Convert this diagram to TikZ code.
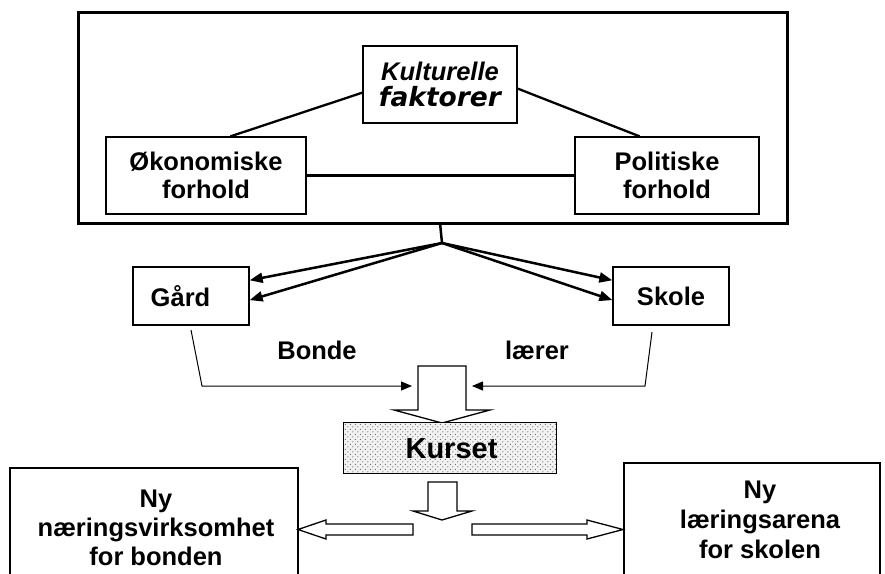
\documentclass[tikz,border=0pt]{standalone}
\usepackage{fontspec}
\setmainfont{Liberation Sans}
\newfontfamily\djv{DejaVu Sans}
\usetikzlibrary{arrows.meta,calc}
\begin{document}
\begin{tikzpicture}[x=1pt,y=-1pt,
  txt/.style={font=\fontsize{25.5}{28}\selectfont\bfseries, align=center, inner sep=0},
  ibox/.style={draw, line width=1.3pt, inner sep=0, font=\fontsize{25.5}{27.5}\selectfont\bfseries, align=center},
  link/.style={line width=2.3pt},
  farrow/.style={line width=2.5pt, -{Triangle[length=13pt,width=10pt]}},
  tarrow/.style={line width=1pt, -{Triangle[length=11pt,width=9pt]}},
  blk/.style={draw, line width=1.3pt, fill=white, line join=miter},
  dot/.style={fill=black!75}
]
\useasboundingbox (0,0) rectangle (885,573);

% outer frame
\node[draw, line width=3pt, minimum width=709pt, minimum height=211pt, inner sep=0] (outer) at (432.5,117.5) {};

\node[ibox, minimum width=154pt, minimum height=77pt] (kult) at (440,84.5)
  {\itshape Kulturelle\\[-1pt]{\djv\bfseries\itshape\fontsize{26.5}{28}\selectfont faktorer}};
\node[ibox, minimum width=200pt, minimum height=77pt] (oko) at (206,175.5) {Økonomiske\\forhold};
\node[ibox, minimum width=184pt, minimum height=77pt] (pol) at (667,175.5) {Politiske\\forhold};

\draw[link] (kult.186) -- (oko.58);
\draw[link] (kult.-3) -- (pol.125);
\draw[link] (oko.east) -- (pol.west);

% stem and junction
\coordinate (st) at (440,223);
\coordinate (j) at (442,243);
\draw[link, line width=2.5pt] (st) -- (j);

\node[ibox, minimum width=116pt, minimum height=58pt] (gard) at (191,296) {Gård\hspace*{21pt}};
\node[ibox, minimum width=116pt, minimum height=58pt] (skole) at (671,296) {Skole};

\draw[farrow] (j) -- (gard.15);
\draw[farrow] (j) -- (gard.-4);
\draw[farrow] (j) -- (skole.165.5);
\draw[farrow] (j) -- (skole.184);

\node[txt] (bonde) at (317,350) {Bonde};
\node[txt] (laerer) at (537,350) {lærer};

% top block arrow
\draw[blk] (418,366) -- (466,366) -- (466,410) -- (490,410) -- (442,423) -- (394,410) -- (418,410) -- cycle;
\coordinate (bL) at (418,386);
\coordinate (bR) at (466,386);

\coordinate (g1) at (191,330);
\coordinate (g2) at (202,386);
\coordinate (s1) at (652,332);
\coordinate (s2) at (645,386);
\draw[tarrow] (g1) -- (g2) -- ($(bL)+(-6,0)$);
\draw[tarrow] (s1) -- (s2) -- ($(bR)+(6,0)$);

% Kurset
\node[fill=gray!10, minimum width=212pt, minimum height=50pt, inner sep=0] (kurs) at (450,448) {};
\begin{scope}
  \clip (kurs.south west) rectangle (kurs.north east);
  \foreach \i in {0,...,43} {
    \foreach \k in {0,...,10} {
      \fill[dot] ($(kurs.north west)+(\i*5+1.5,\k*5+1.5)$) circle (0.55pt);
      \fill[dot] ($(kurs.north west)+(\i*5+4,\k*5+4)$) circle (0.55pt);
    }
  }
\end{scope}
\draw[line width=1.3pt] (kurs.south west) rectangle (kurs.north east);
\node[font=\fontsize{29}{30}\selectfont\bfseries, inner sep=0] (kurst) at (451.5,449) {Kurset};

% lower block arrows
\draw[blk] (428,482) -- (457,482) -- (457,511) -- (472,511) -- (442,520) -- (413,511) -- (428,511) -- cycle;
\draw[blk] (413,524) -- (326,524) -- (326,520) -- (298,529.5) -- (326,539) -- (326,535) -- (413,535) -- cycle;
\draw[blk] (472,524) -- (587,524) -- (587,520) -- (623,529.5) -- (587,539) -- (587,535) -- (472,535) -- cycle;

% bottom boxes
\node[draw, line width=1.3pt, minimum width=288pt, minimum height=140pt, inner sep=0] (nyL) at (154,538) {};
\node[txt, font=\fontsize{25.5}{29}\selectfont\bfseries] (nyLt) at (156,528) {Ny\\næringsvirksomhet\\for bonden};
\node[draw, line width=1.3pt, minimum width=256pt, minimum height=150pt, inner sep=0] (nyR) at (752,538) {};
\node[txt, font=\fontsize{25.5}{30}\selectfont\bfseries] (nyRt) at (760,520) {Ny\\læringsarena\\for skolen};
\end{tikzpicture}
\end{document}
